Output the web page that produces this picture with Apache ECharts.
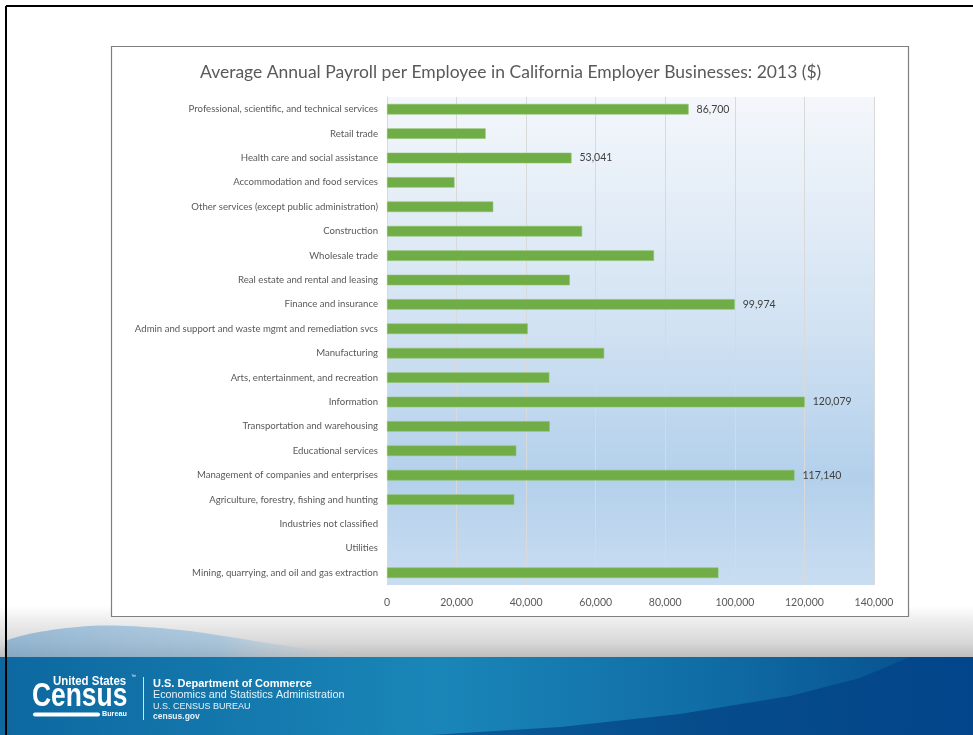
<!DOCTYPE html>
<html>
<head>
<meta charset="utf-8">
<script src="https://cdn.jsdelivr.net/npm/echarts@6/dist/echarts.min.js"></script>
<style>
html,body{margin:0;padding:0;background:#fff;}
#c{width:973px;height:735px;}
</style>
</head>
<body>
<div id="c"></div>
<script>
const titleText = 'Average Annual Payroll per Employee in California Employer Businesses: 2013 ($)';
const categories = [
  'Professional, scientific, and technical services',
  'Retail trade',
  'Health care and social assistance',
  'Accommodation and food services',
  'Other services (except public administration)',
  'Construction',
  'Wholesale trade',
  'Real estate and rental and leasing',
  'Finance and insurance',
  'Admin and support and waste mgmt and remediation svcs',
  'Manufacturing',
  'Arts, entertainment, and recreation',
  'Information',
  'Transportation and warehousing',
  'Educational services',
  'Management of companies and enterprises',
  'Agriculture, forestry, fishing and hunting',
  'Industries not classified',
  'Utilities',
  'Mining, quarrying, and oil and gas extraction'
];
const payroll = [86700, 28350, 53041, 19400, 30540, 56090, 76750, 52550, 99974, 40450,
                 62430, 46670, 120079, 46790, 37170, 117140, 36590, null, null, 95270];
const labeledCategories = [
  'Professional, scientific, and technical services',
  'Health care and social assistance',
  'Finance and insurance',
  'Information',
  'Management of companies and enterprises'
];
const xTicks = [0, 20000, 40000, 60000, 80000, 100000, 120000, 140000];

const chart = echarts.init(document.getElementById('c'), null, {renderer: 'canvas'});
const fmt = v => v.toLocaleString('en-US');
const seriesData = payroll.map((v, i) => ({
  value: v,
  label: {show: labeledCategories.includes(categories[i]) && v != null}
}));

const textFont = 'Lato, "Open Sans", sans-serif';
const LG = (x0, y0, x1, y1, stops) => ({type: 'linear', x: x0, y: y0, x2: x1, y2: y1, colorStops: stops});
const sans = '"Liberation Sans", Arial, sans-serif';

chart.setOption({
  animation: false,
  title: {
    text: titleText,
    left: 195,
    top: 58,
    textStyle: {fontFamily: textFont, fontWeight: 'normal', fontSize: 17.5, color: '#595959'}
  },
  grid: {
    left: 387, top: 97, width: 487, height: 488,
    show: true,
    borderWidth: 0,
    backgroundColor: LG(0, 0, 0, 1, [
      {offset: 0, color: '#f4f7fb'},
      {offset: 0.45, color: '#d3e3f3'},
      {offset: 0.78, color: '#b3d0eb'},
      {offset: 1, color: '#c9ddf1'}
    ])
  },
  xAxis: {
    type: 'value',
    min: 0, max: 140000, interval: 20000,
    axisLine: {show: false},
    axisTick: {show: false},
    splitLine: {show: true, lineStyle: {color: '#d9d9d9', width: 1}},
    axisLabel: {
      color: '#595959', fontFamily: textFont, fontSize: 10.5, margin: 12,
      formatter: v => xTicks.includes(v) ? fmt(v) : ''
    }
  },
  yAxis: {
    type: 'category',
    data: categories,
    inverse: true,
    axisLine: {show: true, lineStyle: {color: '#d9d9d9'}},
    axisTick: {show: false},
    axisLabel: {color: '#595959', fontFamily: textFont, fontSize: 9.6, margin: 9}
  },
  series: [{
    type: 'bar',
    data: seriesData,
    barWidth: 10.5,
    itemStyle: {color: '#70ad47', borderColor: '#8cc16a', borderWidth: 0.6},
    label: {
      position: 'right', distance: 8,
      color: '#404040', fontFamily: textFont, fontSize: 10.5,
      formatter: p => fmt(p.value)
    }
  }],
  graphic: [
    {type: 'rect', z: -20, shape: {x: 0, y: 606, width: 973, height: 52},
     style: {fill: LG(0, 0, 0, 1, [
       {offset: 0, color: '#ffffff'}, {offset: 0.3, color: '#ececec'}, {offset: 0.7, color: '#d8d8d8'}, {offset: 1, color: '#bcbcbc'}])}},
    {type: 'polygon', z: -19, shape: {smooth: 0.3, points: [[8, 657], [8, 640], [90, 626], [180, 630], [280, 645], [360, 657]]},
     style: {fill: LG(0, 0, 1, 0, [
       {offset: 0, color: 'rgba(90,150,200,0.55)'}, {offset: 0.6, color: 'rgba(110,170,215,0.45)'}, {offset: 1, color: 'rgba(200,210,220,0.1)'}])}},
    {type: 'rect', z: -18, shape: {x: 0, y: 657, width: 973, height: 78},
     style: {fill: LG(0, 0, 1, 0, [
       {offset: 0, color: '#0d68a0'}, {offset: 0.45, color: '#1a86b8'}, {offset: 0.75, color: '#0f6aa3'}, {offset: 1, color: '#054b8a'}])}},
    {type: 'polygon', z: -17, shape: {points: [[430, 735], [560, 727], [680, 714], [790, 696], [860, 678], [910, 657], [973, 657], [973, 735]]},
     style: {fill: LG(0, 0, 1, 0, [
       {offset: 0, color: '#0a5c98'}, {offset: 0.5, color: '#064c8b'}, {offset: 1, color: '#03458a'}])}},
    {type: 'line', z: -5, shape: {x1: 6, y1: 6, x2: 973, y2: 6}, style: {stroke: '#000', lineWidth: 2}},
    {type: 'line', z: -5, shape: {x1: 6, y1: 6, x2: 6, y2: 735}, style: {stroke: '#000', lineWidth: 2}},
    {type: 'rect', z: -10, shape: {x: 111.5, y: 46.5, width: 797, height: 570},
     style: {fill: '#ffffff', stroke: '#7f7f7f', lineWidth: 1.2}},
    // logo
    {type: 'text', z: 10, x: 53, y: 675, scaleX: 0.88,
     style: {text: 'United States', fill: '#fff', font: 'bold 13px ' + sans}},
    {type: 'text', z: 10, x: 131, y: 674, style: {text: '™', fill: '#fff', font: '5px sans-serif'}},
    {type: 'text', z: 10, x: 32, y: 680, scaleX: 0.8,
     style: {text: 'Census', fill: '#fff', font: 'bold 33px ' + sans}},
    {type: 'rect', z: 10, shape: {x: 33, y: 712.5, width: 67, height: 4, r: 2}, style: {fill: '#fff'}},
    {type: 'text', z: 10, x: 102, y: 710, scaleX: 0.9,
     style: {text: 'Bureau', fill: '#fff', font: 'bold 8px ' + sans}},
    {type: 'line', z: 10, shape: {x1: 143.5, y1: 677, x2: 143.5, y2: 720}, style: {stroke: '#d0e4f0', lineWidth: 1}},
    {type: 'text', z: 10, x: 153, y: 678, style: {text: 'U.S. Department of Commerce', fill: '#fff', font: 'bold 11px ' + sans}},
    {type: 'text', z: 10, x: 153, y: 690, style: {text: 'Economics and Statistics Administration', fill: '#e8f2f8', font: '10.8px ' + sans}},
    {type: 'text', z: 10, x: 153, y: 702, style: {text: 'U.S. CENSUS BUREAU', fill: '#e8f2f8', font: '9px ' + sans}},
    {type: 'text', z: 10, x: 153, y: 712, style: {text: 'census.gov', fill: '#e8f2f8', font: 'bold 8.5px ' + sans}}
  ]
});
</script>
</body>
</html>
